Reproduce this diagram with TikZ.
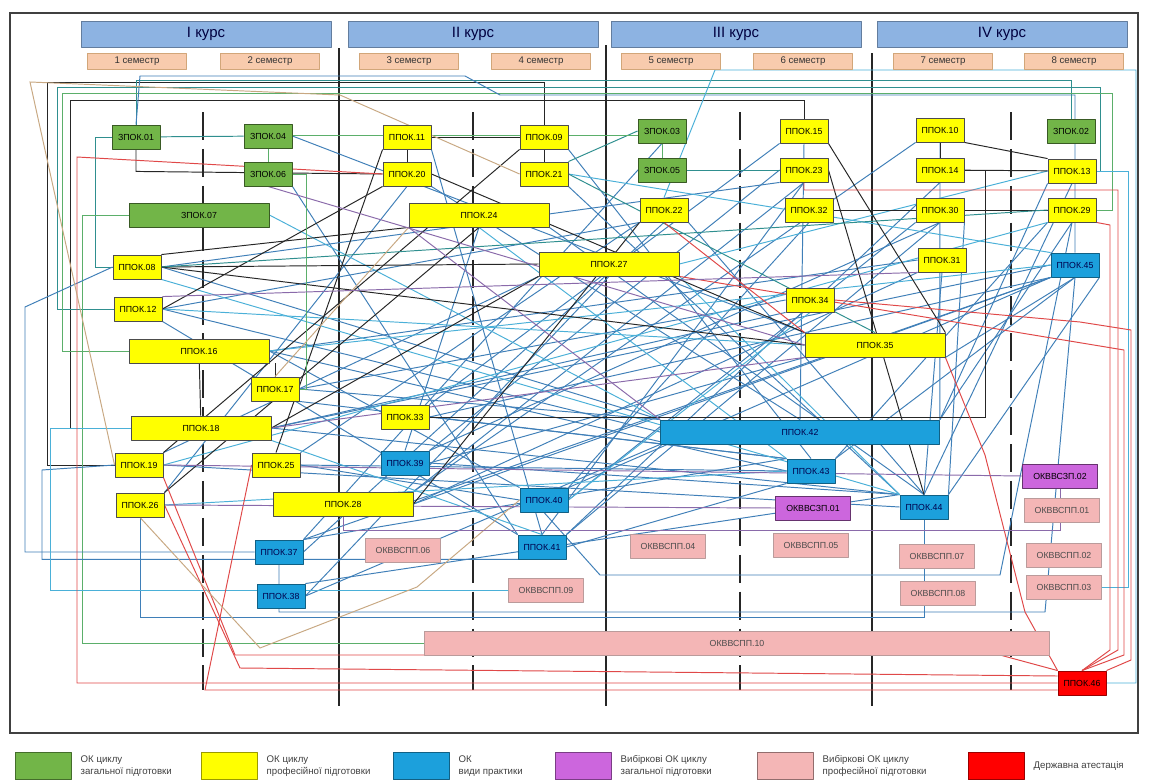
\documentclass[tikz,border=0pt]{standalone}
\usepackage{fontspec}
\setmainfont{Liberation Sans}
\usetikzlibrary{positioning}
\definecolor{kursblue}{HTML}{8DB3E2}
\definecolor{sempeach}{HTML}{F8CBAD}
\definecolor{zgreen}{HTML}{72B548}
\definecolor{pyellow}{HTML}{FFFF00}
\definecolor{pblue}{HTML}{1CA0DC}
\definecolor{vviolet}{HTML}{CC66DD}
\definecolor{vpink}{HTML}{F4B6B6}
\definecolor{cblue}{HTML}{3F7FB8}
\definecolor{ccyan}{HTML}{4AB0D8}
\definecolor{cteal}{HTML}{2F8F8F}
\definecolor{cgreen}{HTML}{5BAF6A}
\definecolor{cred}{HTML}{E04848}
\definecolor{ctan}{HTML}{C8A882}
\definecolor{cviol}{HTML}{8A6AAA}
\pgfdeclarelayer{bg}
\pgfdeclarelayer{lines}
\pgfsetlayers{bg,lines,main}
\tikzset{
  kurs/.style={draw=kursblue!70!black, fill=kursblue, minimum width=5cm, minimum height=0.52cm, inner sep=0, font=\fontsize{8.5}{9}\selectfont, text=blue!25!black},
  sem/.style={draw=brown!70, fill=sempeach, minimum width=1.98cm, minimum height=0.32cm, inner sep=0, font=\fontsize{5.5}{6}\selectfont, text=black!80},
  ok/.style={draw=black!70, line width=0.5pt, minimum width=0.96cm, minimum height=0.48cm, inner sep=0, font=\fontsize{5}{5}\selectfont},
  zp/.style={ok, fill=zgreen, draw=zgreen!50!black},
  pp/.style={ok, fill=pyellow},
  pr/.style={ok, fill=pblue, draw=pblue!60!black, text=blue!30!black},
  vz/.style={ok, fill=vviolet, draw=vviolet!50!black, minimum width=1.5cm},
  vp/.style={ok, fill=vpink, draw=vpink!50!gray, minimum width=1.5cm, text=black!70},
  da/.style={ok, fill=red, draw=red!60!black},
  wide/.style={minimum width=2.8cm},
  leg/.style={draw=#1!60!black, fill=#1, minimum width=1.12cm, minimum height=0.54cm, inner sep=0},
  legtext/.style={font=\fontsize{5.5}{6.5}\selectfont, align=left, text=black!75, inner sep=0},
  lk/.style={draw=black!85, line width=0.55pt},
  lb/.style={draw=cblue, line width=0.55pt},
  lc/.style={draw=ccyan, line width=0.55pt},
  lt/.style={draw=cteal, line width=0.55pt},
  lg/.style={draw=cgreen, line width=0.55pt},
  lr/.style={draw=cred, line width=0.55pt},
  ln/.style={draw=ctan, line width=0.55pt},
  lp/.style={draw=cviol, line width=0.55pt}
}
\begin{document}
\begin{tikzpicture}[x=0.02cm, y=-0.02cm, line join=round, line cap=round]
  \useasboundingbox (0,0) rectangle (1150,781);
  \begin{pgfonlayer}{bg}
    \fill[white] (0,0) rectangle (1150,781);
    \draw[line width=1.1pt, black!75] (10,13) rectangle (1138,733);
    \foreach \x/\y in {339/48, 606/45, 872/53} \draw[line width=0.8pt, black!85] (\x,\y) -- (\x,706);
    \foreach \x in {203,473,740,1011} \draw[line width=0.8pt, black!85, dash pattern=on 16pt off 5pt] (\x,112) -- (\x,690);
  \end{pgfonlayer}
  % курси і семестри
  \foreach \t/\x in {I/206,II/473,III/736,IV/1002} \node[kurs] (k\t) at (\x,34) {\t\ курс};
  \foreach \n/\x in {1/137,2/270,3/409,4/541,5/671,6/803,7/943,8/1074} \node[sem] (sm\n) at (\x,61) {\n\ семестр};
  % I курс
  \node[zp] (z01) at (136,137) {ЗПОК.01};
  \node[zp] (z04) at (268,136) {ЗПОК.04};
  \node[zp] (z06) at (268,174) {ЗПОК.06};
  \node[zp,wide] (z07) at (199,215) {ЗПОК.07};
  \node[pp] (p08) at (137,267) {ППОК.08};
  \node[pp] (p12) at (138,309) {ППОК.12};
  \node[pp,wide] (p16) at (199,351) {ППОК.16};
  \node[pp] (p17) at (275,389) {ППОК.17};
  \node[pp,wide] (p18) at (201,428) {ППОК.18};
  \node[pp] (p19) at (139,465) {ППОК.19};
  \node[pp] (p25) at (276,465) {ППОК.25};
  \node[pp] (p26) at (140,505) {ППОК.26};
  \node[pr] (p37) at (279,552) {ППОК.37};
  \node[pr] (p38) at (281,596) {ППОК.38};
  % II курс
  \node[pp] (p11) at (407,137) {ППОК.11};
  \node[pp] (p20) at (407,174) {ППОК.20};
  \node[pp] (p09) at (544,137) {ППОК.09};
  \node[pp] (p21) at (544,174) {ППОК.21};
  \node[pp,wide] (p24) at (479,215) {ППОК.24};
  \node[pp] (p33) at (405,417) {ППОК.33};
  \node[pr] (p39) at (405,463) {ППОК.39};
  \node[pp,wide] (p28) at (343,504) {ППОК.28};
  \node[pr] (p40) at (544,500) {ППОК.40};
  \node[pr] (p41) at (542,547) {ППОК.41};
  \node[vp] (v06) at (403,550) {ОКВВСПП.06};
  \node[vp] (v09) at (546,590) {ОКВВСПП.09};
  % III курс
  \node[zp] (z03) at (662,131) {ЗПОК.03};
  \node[zp] (z05) at (662,170) {ЗПОК.05};
  \node[pp] (p22) at (664,210) {ППОК.22};
  \node[pp] (p15) at (804,131) {ППОК.15};
  \node[pp] (p23) at (804,170) {ППОК.23};
  \node[pp] (p32) at (809,210) {ППОК.32};
  \node[pp,wide] (p27) at (609,264) {ППОК.27};
  \node[pp] (p34) at (810,300) {ППОК.34};
  \node[pp,wide] (p35) at (875,345) {ППОК.35};
  \node[pr,minimum width=5.58cm] (p42) at (800,432) {ППОК.42};
  \node[pr] (p43) at (811,471) {ППОК.43};
  \node[vz] (s01) at (813,508) {ОКВВСЗП.01};
  \node[vp] (v04) at (668,546) {ОКВВСПП.04};
  \node[vp] (v05) at (811,545) {ОКВВСПП.05};
  % IV курс
  \node[pp] (p10) at (940,130) {ППОК.10};
  \node[pp] (p14) at (940,170) {ППОК.14};
  \node[pp] (p30) at (940,210) {ППОК.30};
  \node[pp] (p31) at (942,260) {ППОК.31};
  \node[zp] (z02) at (1071,131) {ЗПОК.02};
  \node[pp] (p13) at (1072,171) {ППОК.13};
  \node[pp] (p29) at (1072,210) {ППОК.29};
  \node[pr] (p45) at (1075,265) {ППОК.45};
  \node[pr] (p44) at (924,507) {ППОК.44};
  \node[vz] (s02) at (1060,476) {ОКВВСЗП.02};
  \node[vp] (v01) at (1062,510) {ОКВВСПП.01};
  \node[vp] (v02) at (1064,555) {ОКВВСПП.02};
  \node[vp] (v03) at (1064,587) {ОКВВСПП.03};
  \node[vp] (v07) at (937,556) {ОКВВСПП.07};
  \node[vp] (v08) at (938,593) {ОКВВСПП.08};
  \node[vp,minimum width=12.5cm] (v10) at (737,643) {ОКВВСПП.10};
  \node[da] (p46) at (1082,683) {ППОК.46};
  % зв'язки
  \begin{pgfonlayer}{lines}
    \foreach \a/\b in {p08.east/p42.north west, p08.east/p23.south west, p12.east/p42.west, p12.east/p22.south west,
      p16.east/p43.west, p16.east/p31.west, p18.east/p45.west, p18.east/p34.south west, p19.east/p44.west,
      p19.north east/p27.south west, p25.north east/p22.south west, p25.east/p40.west, p17.east/p34.west,
      p17.east/p42.north west, p28.east/p31.south west, p28.north east/p23.south, p33.north east/p15.south west,
      p33.east/p43.north west, p39.north east/p23.west, p39.east/p44.north west, p37.east/p22.south,
      p37.north east/p45.south west, p38.east/p27.south, p38.east/p42.south west, p40.north east/p45.south west,
      p40.east/p30.south west, p41.north east/p30.south, p41.east/p43.south west, p42.north east/p29.south,
      p43.north east/p45.south, p44.north/p13.south, p44.north east/p45.south east, p24.south east/p44.north,
      p20.south east/p42.north, p21.south east/p44.north west, p09.south east/p43.north, p11.south east/p41.north,
      z06.south east/p41.north west, z04.east/p35.north west, p26.north east/p20.south, p35.south east/p45.south,
      p32.south/p40.north east, p14.south/p41.north east, p30.south/p39.north east, z03.south/p37.north east,
      p22.south east/p44.north, p15.south/p42.north, p23.south/p41.north, p10.south west/p28.north east,
      p16.east/p40.north west, p18.east/p44.north west, p25.east/p43.west, p33.east/p45.south west,
      p39.east/p35.south west, p28.east/p45.south west, p37.north east/p43.north west, p38.north east/p44.north west,
      p12.south east/p41.north west, p17.south east/p43.north west, p31.south/p44.north, p29.south west/p43.north east,
      p13.south west/p42.north east, p30.south east/p44.north east, p10.south/p42.north east, p24.south/p39.north}
      \draw[lb] (\a) -- (\b);
    \foreach \a/\b in {p12.east/p35.west, p26.east/p43.west, p19.east/p29.south west, p16.east/p45.west,
      p27.south east/p44.north west, z07.east/p42.north west, p24.south/p43.north west, p21.east/p45.north west,
      p08.south east/p44.north west, p18.south east/p41.north, p34.south/p40.east, p27.east/p13.west}
      \draw[lc] (\a) -- (\b);
    \foreach \a/\b in {p11/p09, p11/p20, p09/p21, p10/p14, p14/p13, p30/p29, p32/p30, p10.south east/p13.north west,
      p16/p18, p08.east/p27.west, p08.north east/p24.south west, p19.north east/p09.south west, p25.north/p11.south west,
      p26.north east/p24.south, p28.east/p22.south west, p08.east/p35.west, p12.east/p20.south west,
      p18.east/p27.south west, p15.south east/p35.north east, p23.east/p44.north, p20.east/p35.north west}
      \draw[lk] (\a) -- (\b);
    \draw[lk] (p16.south -| p17) -- (p17);
    \draw[lk] (z01.south) -- ++(0,22) -- (p20.west);
    \draw[lk] (p09.north) |- (47,82) |- (p19.west);
    \draw[lk] (p15.north) |- (70,100) |- (p18.west);
    \draw[lk] (p14.east) -- (985,170) |- (p33.east);
    \foreach \a/\b in {z01/z04, z03.west/p21.north east, z05.east/p23.west, p08.east/p29.west, p21.east/p35.north}
      \draw[lt] (\a) -- (\b);
    \draw[lt] (z02.north) -- ++(0,-38) -| (z01.north);
    \draw[lt] (z01.west) -- ++(-16,0) |- (p08.west);
    \draw[lt] (p12.west) -- (57,309) |- (1100,87) |- (p13.east);
    \draw[lg] (z05.north) -- ++(0,-22) -| (z06.north);
    \draw[lg] (z06.east) -- ++(14,0) |- (p17.east);
    \draw[lg] (z07.west) -- (82,215) |- (v10.west);
    \draw[lg] (p16.west) -- (62,351) |- (1112,93) |- (p29.east);
    \draw[lb] (p08.west) -- (25,307) |- (p37.west);
    \draw[lb] (z01.north) -- (140,76) -- (465,76) -- (500,95) -| (p45.north);
    \draw[lb] (p26.south) -- ++(0,100) -| (p44.south);
    \draw[lb] (p19.west) -- (42,470) |- (p41.south);
    \draw[lb] (p37.south) |- (1045,612) -- (p45.south);
    \draw[lb] (p40.south) -- (600,575) -- (1000,575) -- (p29.south);
    \draw[lc] (p22.north) -- (715,70) -- (1136,70) |- (p46.east);
    \draw[lc] (p18.west) -- (50,428) |- (v09.west);
    \draw[lc] (p13.east) -- (1128,171) |- (v03.east);
    % державна атестація
    \draw[lr] (p46.west) -| (77,157) -- (p20.west);
    \draw[lr] (p19.south east) -- (235,655) -- (1000,655) -- (p46.north west);
    \draw[lr] (p26.east) -- (240,668) -- (p46.west |- 0,676);
    \draw[lr] (p25.west) -- (205,690) -- (p46.west |- 0,690);
    \draw[lr] (p23.south) |- (1118,190) -- (1118,650) -- (p46.north);
    \draw[lr] (p34.east) -- (1080,322) -- (1131,330) -- (1131,660) -- (p46.north east);
    \draw[lr] (p27.south east) -- (1124,350) -- (1124,655) -- (p46.north);
    \draw[lr] (p29.south east) -- (1110,225) -- (1110,650) -- (p46.north);
    \draw[lr] (p35.south east) -- (985,455) -- (1025,612) -- (p46.north west);
    \draw[lr] (p22.south) -- (p35.north west);
    \draw[ln] (p19.west) -- (30,82) -- (340,95) -- (p21.west);
    \draw[ln] (p26.south) -- (260,648) -- (417,587) -- (p40.west);
    \draw[ln] (p17.north) -- (p24.south west);
    \foreach \a/\b in {p24.south west/p42.north west, z06.south/p35.west, p12.north east/p31.south west,
      p19.east/s02.west, p26.east/s01.west, p18.east/p35.south west}
      \draw[lp] (\a) -- (\b);
    \draw[lp] (p28.south) -- ++(0,14) -| (s02.south);
  \end{pgfonlayer}
  % легенда
  \foreach \i/\c/\x/\t in {1/zgreen/43/{ОК циклу\\загальної підготовки}, 2/pyellow/229/{ОК циклу\\професійної підготовки},
    3/pblue/421/{ОК\\види практики}, 4/vviolet/583/{Вибіркові ОК циклу\\загальної підготовки},
    5/vpink/785/{Вибіркові ОК циклу\\професійної підготовки}, 6/red/996/{Державна атестація}} {
    \node[leg=\c] (leg\i) at (\x,766) {};
    \node[legtext, right=0.18cm of leg\i] {\t};
  }
\end{tikzpicture}
\end{document}
